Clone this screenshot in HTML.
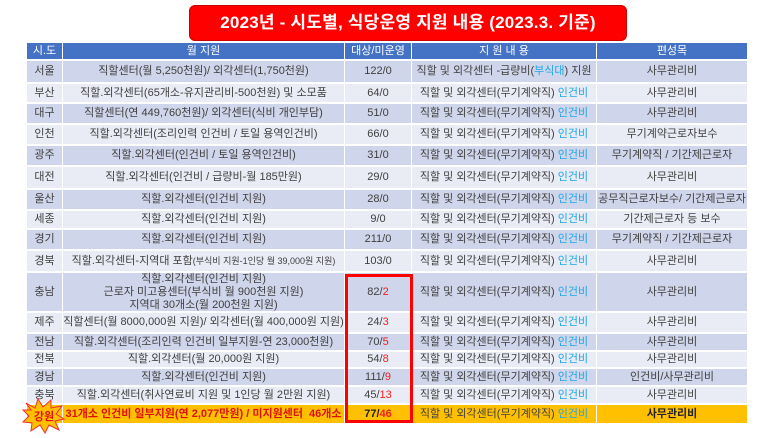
<!DOCTYPE html>
<html><head><meta charset="utf-8"><style>
*{margin:0;padding:0;box-sizing:border-box}
body{width:779px;height:438px;background:#fff;position:relative;overflow:hidden;font-family:"Liberation Sans","Noto Sans CJK KR","NanumGothic",sans-serif;color:#404040}
.title{position:absolute;left:189px;top:5px;width:438px;height:36px;background:#f00;border:1px solid #c00;border-radius:6px;color:#fff;font-weight:bold;font-size:17px;text-align:center;line-height:34px;letter-spacing:0.2px}
.row{position:absolute;left:27px;width:720px;display:flex;font-size:11px;border-bottom:2px solid #fff}
.row div{display:flex;align-items:center;justify-content:center;text-align:center;border-right:1px solid #fff;line-height:13px}
.c1{width:36px}.c2{width:282px}.c3{width:67px}.c4{width:185px}.c5{width:150px;border-right:none!important}
.h{background:#4472c4;color:#fff;top:43px;height:18px}
.a{background:#cfd5ea}.b{background:#e9ebf5}
.y{background:#ffc000}
.bl{color:#1ea7e6}.r{color:#f02020}
.sm{font-size:9px}
.box{position:absolute;left:345px;top:274px;width:68px;height:149px;border:3px solid #f00}
</style></head><body>
<div class="title">2023년 - 시도별, 식당운영 지원 내용 (2023.3. 기준)</div>
<div class="row h"><div class="c1">시.도</div><div class="c2">월 지원</div><div class="c3">대상/미운영</div><div class="c4">지 원 내 용</div><div class="c5">편성목</div></div>
<div class="row a" style="top:61px;height:23px"><div class="c1">서울</div><div class="c2">직할센터(월 5,250천원)/ 외각센터(1,750천원)</div><div class="c3">122/0</div><div class="c4">직할 및 외각센터 -급량비(<span class="bl">부식대</span>) 지원</div><div class="c5">사무관리비</div></div>
<div class="row b" style="top:84px;height:20px"><div class="c1">부산</div><div class="c2">직할.외각센터(65개소-유지관리비-500천원) 및 소모품</div><div class="c3">64/0</div><div class="c4">직할 및 외각센터(무기계약직)&nbsp;<span class="bl">인건비</span></div><div class="c5">사무관리비</div></div>
<div class="row a" style="top:104px;height:21px"><div class="c1">대구</div><div class="c2">직할센터(연 449,760천원)/ 외각센터(식비 개인부담)</div><div class="c3">51/0</div><div class="c4">직할 및 외각센터(무기계약직)&nbsp;<span class="bl">인건비</span></div><div class="c5">사무관리비</div></div>
<div class="row b" style="top:125px;height:21px"><div class="c1">인천</div><div class="c2">직할.외각센터(조리인력 인건비 / 토일 용역인건비)</div><div class="c3">66/0</div><div class="c4">직할 및 외각센터(무기계약직)&nbsp;<span class="bl">인건비</span></div><div class="c5">무기계약근로자보수</div></div>
<div class="row a" style="top:146px;height:21px"><div class="c1">광주</div><div class="c2">직할.외각센터(인건비 / 토일 용역인건비)</div><div class="c3">31/0</div><div class="c4">직할 및 외각센터(무기계약직)&nbsp;<span class="bl">인건비</span></div><div class="c5">무기계약직 / 기간제근로자</div></div>
<div class="row b" style="top:167px;height:23px"><div class="c1">대전</div><div class="c2">직할.외각센터(인건비 / 급량비-월 185만원)</div><div class="c3">29/0</div><div class="c4">직할 및 외각센터(무기계약직)&nbsp;<span class="bl">인건비</span></div><div class="c5">사무관리비</div></div>
<div class="row a" style="top:190px;height:21px"><div class="c1">울산</div><div class="c2">직할.외각센터(인건비 지원)</div><div class="c3">28/0</div><div class="c4">직할 및 외각센터(무기계약직)&nbsp;<span class="bl">인건비</span></div><div class="c5">공무직근로자보수/ 기간제근로자</div></div>
<div class="row b" style="top:211px;height:19px"><div class="c1">세종</div><div class="c2">직할.외각센터(인건비 지원)</div><div class="c3">9/0</div><div class="c4">직할 및 외각센터(무기계약직)&nbsp;<span class="bl">인건비</span></div><div class="c5">기간제근로자 등 보수</div></div>
<div class="row a" style="top:230px;height:21px"><div class="c1">경기</div><div class="c2">직할.외각센터(인건비 지원)</div><div class="c3">211/0</div><div class="c4">직할 및 외각센터(무기계약직)&nbsp;<span class="bl">인건비</span></div><div class="c5">무기계약직 / 기간제근로자</div></div>
<div class="row b" style="top:251px;height:22px"><div class="c1">경북</div><div class="c2">직할.외각센터-지역대 포함<span class="sm">(부식비 지원-1인당 월 39,000원 지원)</span></div><div class="c3">103/0</div><div class="c4">직할 및 외각센터(무기계약직)&nbsp;<span class="bl">인건비</span></div><div class="c5">사무관리비</div></div>
<div class="row a" style="top:273px;height:40px"><div class="c1">충남</div><div class="c2">직할.외각센터(인건비 지원)<br>근로자 미고용센터(부식비 월 900천원 지원)<br>지역대 30개소(월 200천원 지원)</div><div class="c3">82/<span class="r">2</span></div><div class="c4">직할 및 외각센터(무기계약직)&nbsp;<span class="bl">인건비</span></div><div class="c5">사무관리비</div></div>
<div class="row b" style="top:313px;height:21px"><div class="c1">제주</div><div class="c2">직할센터(월 8000,000원 지원)/ 외각센터(월 400,000원 지원)</div><div class="c3">24/<span class="r">3</span></div><div class="c4">직할 및 외각센터(무기계약직)&nbsp;<span class="bl">인건비</span></div><div class="c5">사무관리비</div></div>
<div class="row a" style="top:334px;height:18px"><div class="c1">전남</div><div class="c2">직할.외각센터(조리인력 인건비 일부지원-연 23,000천원)</div><div class="c3">70/<span class="r">5</span></div><div class="c4">직할 및 외각센터(무기계약직)&nbsp;<span class="bl">인건비</span></div><div class="c5">사무관리비</div></div>
<div class="row b" style="top:352px;height:17px"><div class="c1">전북</div><div class="c2">직할.외각센터(월 20,000원 지원)</div><div class="c3">54/<span class="r">8</span></div><div class="c4">직할 및 외각센터(무기계약직)&nbsp;<span class="bl">인건비</span></div><div class="c5">사무관리비</div></div>
<div class="row a" style="top:369px;height:18px"><div class="c1">경남</div><div class="c2">직할.외각센터(인건비 지원)</div><div class="c3">111/<span class="r">9</span></div><div class="c4">직할 및 외각센터(무기계약직)&nbsp;<span class="bl">인건비</span></div><div class="c5">인건비/사무관리비</div></div>
<div class="row b" style="top:387px;height:18px"><div class="c1">충북</div><div class="c2">직할.외각센터(취사연료비 지원 및 1인당 월 2만원 지원)</div><div class="c3">45/<span class="r">13</span></div><div class="c4">직할 및 외각센터(무기계약직)&nbsp;<span class="bl">인건비</span></div><div class="c5">사무관리비</div></div>
<div class="row y" style="top:405px;height:18px;border-bottom:none"><div class="c1"></div><div class="c2" style="color:#e01010;font-weight:bold">31개소 인건비 일부지원(연 2,077만원) / 미지원센터 &nbsp;46개소</div><div class="c3" style="font-weight:bold;color:#222">77/<span class="r">46</span></div><div class="c4">직할 및 외각센터(무기계약직)&nbsp;<span class="bl">인건비</span></div><div class="c5" style="font-weight:bold;color:#222">사무관리비</div></div>
<svg style="position:absolute;left:22px;top:397px" width="44" height="38" viewBox="0 0 44 38">
<polygon points="4,6 13,11 16,2 21,10 29,3 29,11 40,9 34,17 42,22 33,24 37,33 27,28 23,36 18,28 9,34 10,26 1,25 7,19 1,13 9,13" fill="#ffc000" stroke="#f03030" stroke-width="1"/>
<text x="22" y="23" font-size="11" font-weight="bold" fill="#e01010" text-anchor="middle" font-family="Liberation Sans, Noto Sans CJK KR, sans-serif">강원</text>
</svg>
<div class="box"></div>
</body></html>
